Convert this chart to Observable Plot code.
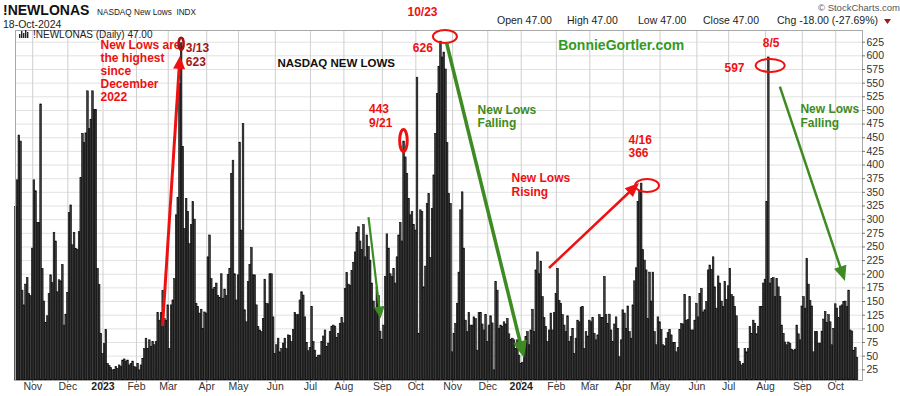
<!DOCTYPE html>
<html><head><meta charset="utf-8">
<script src="https://cdn.jsdelivr.net/npm/d3@7"></script>
<script src="https://cdn.jsdelivr.net/npm/@observablehq/plot@0.6"></script>
<style>
body{margin:0;background:#fff;}
#chart{width:900px;height:396px;}
</style></head><body><div id="chart"></div>
<script>
// ---------- data ----------
const startDate = "2022-10-18", endDate = "2024-10-18";
const holidays = ["2022-11-24","2022-12-26","2023-01-02","2023-01-16","2023-02-20","2023-04-07","2023-05-29","2023-06-19","2023-07-04","2023-09-04","2023-11-23","2023-12-25","2024-01-01","2024-01-15","2024-02-19","2024-03-29","2024-05-27","2024-06-19","2024-07-04","2024-09-02"];
const oct22 = [323,372,454,443,170,143,181,193,164,160];
const nov22 = [247,372,352,294,294,511,210,150,111,123,164,198,184,276,260,167,189,187,217,106,126];
const dec22 = [166,312,326,253,276,246,245,277,376,457,440,458,535,466,483,535,501,501,210,180,91];
const jan23 = [54,72,98,36,32,28,24,25,30,27,33,30,42,44,40,42,33,36,40,30];
const feb23 = [28,36,24,33,45,63,82,63,79,67,76,70,76,129,115,129,169,118,115];
const mar23 = [143,63,143,152,191,308,340,549,623,433,283,338,314,255,290,332,300,146,140,128,135,100,130];
const apr23 = [128,231,271,191,172,175,183,160,157,200,155,172,160,199,210,384,408,200,152];
const may23 = [198,441,280,475,134,112,186,217,248,198,198,143,103,97,94,118,190,146,145,200,200,121];
const jun23 = [54,70,82,57,63,73,82,63,88,87,76,98,129,125,125,152,167,161,121,74,59];
const jul23 = [65,140,76,60,47,51,51,76,86,97,67,73,94,104,106,104,83,91,109,120];
const aug23 = [110,173,202,181,179,206,221,240,276,286,260,244,290,231,271,250,225,183,150,137,176,160,95];
const sep23 = [80,106,195,273,247,200,195,210,183,231,271,294,260,443,414,384,338,308,314,290];
const oct23 = [280,560,91,317,314,176,214,329,347,230,320,381,457,530,580,626,597,606,575,440,347,329];
const nov23 = [57,91,109,146,203,317,350,247,115,94,129,106,106,121,118,60,129,129,108,97,125];
const dec23 = [76,106,123,110,24,186,170,100,106,104,112,108,118,90,80,82,79,63,79,51];
const jan24 = [36,38,57,85,94,70,97,135,94,207,240,200,223,158,120,103,76,97,128,97,129];
const feb24 = [164,210,151,146,125,106,94,123,76,85,100,54,82,115,112,139,140,63,94,86];
const mar24 = [115,112,120,91,79,88,125,120,120,195,125,109,126,97,76,108,121,100,48,79];
const apr24 = [134,128,100,141,94,82,143,187,211,332,353,366,244,225,207,118,203,150,203,94,70,121];
const may24 = [112,98,70,68,82,92,98,88,74,74,57,65,98,109,108,162,115,116,158,97,97,115];
const jun24 = [146,121,164,173,130,134,149,207,216,208,231,176,137,196,183,150,140,186,153];
const jul24 = [178,210,162,158,140,123,63,39,33,36,63,57,63,103,91,115,109,90,104,140,140,183];
const aug24 = [190,332,597,183,191,193,158,191,176,158,106,91,75,70,75,72,62,60,62,106,90,79];
const sep24 = [141,158,137,228,181,151,141,57,94,94,73,73,95,117,131,111,125,112,70,100];
const oct24 = [145,137,120,141,143,149,150,140,170,97,95,60,65,47];
const yTicks = [25,50,75,100,125,150,175,200,225,250,275,300,325,350,375,400,425,450,475,500,525,550,575,600,625];
const monthNames = ["Jan","Feb","Mar","Apr","May","Jun","Jul","Aug","Sep","Oct","Nov","Dec"];

// annotations (x = trading-day index, y = value)
const redNotes = [
  {x: 50.5, y: 619.6, t: "New Lows are"}, {x: 50.5, y: 595.8, t: "the highest"},
  {x: 50.5, y: 572.0, t: "since"}, {x: 50.5, y: 548.1, t: "December"}, {x: 50.5, y: 524.3, t: "2022"},
  {x: 211, y: 503.2, t: "443"}, {x: 211, y: 476.6, t: "9/21"},
  {x: 234, y: 679.9, t: "10/23"}, {x: 237.2, y: 613.6, t: "626"},
  {x: 296.2, y: 375.5, t: "New Lows"}, {x: 296.2, y: 350.6, t: "Rising"},
  {x: 366.1, y: 445.9, t: "4/16"}, {x: 366.1, y: 421.3, t: "366"},
  {x: 446.4, y: 622.8, t: "8/5"}, {x: 423.5, y: 577.0, t: "597"}
];
const darkRedNotes = [{x: 101.5, y: 613.6, t: "3/13"}, {x: 101.5, y: 589.3, t: "623"}];
const greenNotes = [
  {x: 275.9, y: 500.8, t: "New Lows"}, {x: 275.9, y: 477.6, t: "Falling"},
  {x: 468.9, y: 501.9, t: "New Lows"}, {x: 468.9, y: 477.6, t: "Falling"}
];
const titleNote = [{x: 156.3, y: 585.6, t: "NASDAQ NEW LOWS"}];
const siteNote = [{x: 324.1, y: 618.0, t: "BonnieGortler.com"}];
const arrows = [
  {x1: 87.9, y1: 104.3, x2: 98.3, y2: 598.8, c: "#ee1111", w: 3, L: 13, H: 6},
  {x1: 257.7, y1: 622.6, x2: 304, y2: 45.7, c: "#3d8b22", w: 3.5, L: 17, H: 7},
  {x1: 211, y1: 303.9, x2: 218.2, y2: 118, c: "#3d8b22", w: 2.2, L: 12, H: 5.5},
  {x1: 318.9, y1: 210.5, x2: 372.7, y2: 366.2, c: "#ee1111", w: 2.5, L: 14, H: 6},
  {x1: 456.9, y1: 542.6, x2: 495.8, y2: 186.7, c: "#3d8b22", w: 2.5, L: 15, H: 6.5}
];
const ellipses = [
  {x: 99, y: 621, rx: 2.5, ry: 6, c: "#aa1111", w: 2.5},
  {x: 231.9, y: 444, rx: 3.8, ry: 11, c: "#ee1111", w: 3},
  {x: 256.7, y: 634.5, rx: 12, ry: 6.5, c: "#ee1111", w: 2},
  {x: 377.5, y: 361.6, rx: 12, ry: 6.5, c: "#ee1111", w: 2},
  {x: 451.1, y: 581.4, rx: 14.5, ry: 6.5, c: "#ee1111", w: 2}
];

// ---------- build trading-day rows ----------
const values = [oct22,nov22,dec22,jan23,feb23,mar23,apr23,may23,jun23,jul23,aug23,sep23,oct23,nov23,dec23,jan24,feb24,mar24,apr24,may24,jun24,jul24,aug24,sep24,oct24].flat();
const hol = new Set(holidays);
const dates = [];
for (let t = Date.parse(startDate); t <= Date.parse(endDate); t += 86400000) {
  const d = new Date(t), wd = d.getUTCDay(), key = d.toISOString().slice(0, 10);
  if (wd !== 0 && wd !== 6 && !hol.has(key)) dates.push(d);
}
const rows = dates.map((d, i) => ({i, date: d, value: values[i]})).filter(r => r.value != null);
const monthStarts = rows.filter((r, k) => k > 0 && r.date.getUTCMonth() !== rows[k - 1].date.getUTCMonth())
  .map(r => ({i: r.i, m: r.date.getUTCMonth(), label: r.date.getUTCMonth() === 0 ? String(r.date.getUTCFullYear()) : monthNames[r.date.getUTCMonth()]}));

const Y0 = 5.4, Y1 = 646.4, X0 = -0.3, X1 = 506;
const font = "Arial, 'Liberation Sans', Helvetica, sans-serif";

const chart = Plot.plot({
  width: 900, height: 396,
  marginLeft: 15, marginRight: 38, marginTop: 30, marginBottom: 16,
  x: {domain: [X0, X1], axis: null},
  y: {domain: [Y0, Y1], axis: null},
  style: {fontFamily: font, background: "#fff", overflow: "visible"},
  marks: [
    Plot.ruleY(yTicks, {stroke: "#e2e2e2", strokeWidth: 1}),
    Plot.ruleX(monthStarts, {x: "i", stroke: "#cfcfcf", strokeWidth: 1}),
    Plot.rect(rows, {x1: d => d.i - 0.5, x2: d => d.i + 0.5, y1: Y0, y2: "value", fill: "#3c3c3c", stroke: "#000", strokeWidth: 0.55}),
    Plot.frame({stroke: "#a8a8a8"}),
    Plot.ruleY(yTicks, {x1: X1, x2: X1 + 1.8, stroke: "#777"}),
    Plot.text(yTicks, {y: d => d, frameAnchor: "right", dx: 4, textAnchor: "start", text: d => String(d), fontSize: 10.5, fill: "#333"}),
    Plot.ruleX(monthStarts, {x: "i", y1: Y0, y2: Y0 - 4.5, stroke: "#777"}),
    Plot.text(monthStarts.filter(d => d.m !== 0), {x: "i", frameAnchor: "bottom", dy: 9, text: "label", fontSize: 10.5, fill: "#333"}),
    Plot.text(monthStarts.filter(d => d.m === 0), {x: "i", frameAnchor: "bottom", dy: 9, text: "label", fontSize: 10.5, fontWeight: "bold", fill: "#222"}),
    Plot.text(redNotes, {x: "x", y: "y", text: "t", textAnchor: "start", fill: "#ee1111", fontSize: 12, fontWeight: "bold"}),
    Plot.text(darkRedNotes, {x: "x", y: "y", text: "t", textAnchor: "start", fill: "#a31515", fontSize: 12, fontWeight: "bold"}),
    Plot.text(greenNotes, {x: "x", y: "y", text: "t", textAnchor: "start", fill: "#3d8b22", fontSize: 12, fontWeight: "bold"}),
    Plot.text(titleNote, {x: "x", y: "y", text: "t", textAnchor: "start", fill: "#111", fontSize: 11.5, fontWeight: "bold"}),
    Plot.text(siteNote, {x: "x", y: "y", text: "t", textAnchor: "start", fill: "#339a1f", fontSize: 14, fontWeight: "bold"})
  ]
});
document.getElementById("chart").appendChild(chart);

// ---------- overlays: arrows & ellipses through the plot's scales ----------
const sx = chart.scale("x"), sy = chart.scale("y");
const svg = d3.select(chart);
const g = svg.append("g");
ellipses.forEach(e => {
  g.append("ellipse").attr("cx", sx.apply(e.x)).attr("cy", sy.apply(e.y))
    .attr("rx", e.rx).attr("ry", e.ry).attr("fill", "none").attr("stroke", e.c).attr("stroke-width", e.w);
});
arrows.forEach(a => {
  const x1 = sx.apply(a.x1), y1 = sy.apply(a.y1), x2 = sx.apply(a.x2), y2 = sy.apply(a.y2);
  const dx = x2 - x1, dy = y2 - y1, len = Math.hypot(dx, dy), ux = dx / len, uy = dy / len;
  const bx = x2 - ux * a.L, by = y2 - uy * a.L, nx = -uy, ny = ux;
  g.append("line").attr("x1", x1).attr("y1", y1).attr("x2", bx + ux * 2).attr("y2", by + uy * 2)
    .attr("stroke", a.c).attr("stroke-width", a.w);
  g.append("path").attr("d", `M${x2},${y2}L${bx + nx * a.H},${by + ny * a.H}L${bx - nx * a.H},${by - ny * a.H}Z`).attr("fill", a.c);
});

// ---------- header ----------
const hdr = svg.append("g").attr("font-family", font).attr("text-anchor", "start");
hdr.append("text").attr("x", 3).attr("y", 15).attr("font-size", 14).attr("font-weight", "bold").attr("fill", "#111").text("!NEWLONAS");
hdr.append("text").attr("x", 97).attr("y", 15).attr("font-size", 9.5).attr("fill", "#222")
  .attr("textLength", 99).attr("lengthAdjust", "spacingAndGlyphs").text("NASDAQ New Lows  INDX");
hdr.append("text").attr("x", 3).attr("y", 28).attr("font-size", 10.5).attr("fill", "#222").text("18-Oct-2024");
hdr.append("text").attr("x", 818).attr("y", 11).attr("font-size", 9.5).attr("fill", "#555").text("© StockCharts.com");
[["Open 47.00", 497], ["High 47.00", 567], ["Low 47.00", 638], ["Close 47.00", 703], ["Chg -18.00 (-27.69%)", 777]].forEach(([t, x]) =>
  hdr.append("text").attr("x", x).attr("y", 24).attr("font-size", 10.5).attr("fill", "#222").text(t));
hdr.append("path").attr("d", "M884,19L891,19L887.5,24Z").attr("fill", "#9b1b1b");
// legend inside plot
const lg = svg.append("g").attr("text-anchor", "start");
[[19, 4], [21, 7], [23, 5], [25, 8], [27, 6]].forEach(([x, h]) => lg.append("rect").attr("x", x).attr("y", 38 - h).attr("width", 1.4).attr("height", h).attr("fill", "#222"));
lg.append("text").attr("x", 33).attr("y", 38).attr("font-family", font).attr("font-size", 10).attr("fill", "#222").text("!NEWLONAS (Daily) 47.00");
</script></body></html>
